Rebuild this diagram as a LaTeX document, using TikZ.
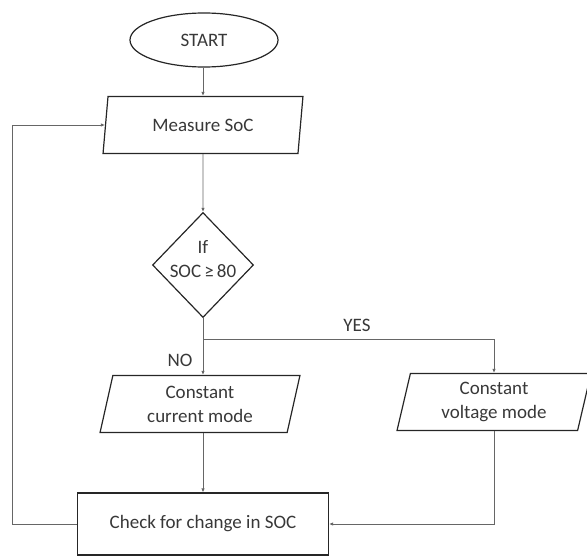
\documentclass[tikz,border=0pt]{standalone}
\usepackage{fontspec}
\setmainfont{Carlito}
\usetikzlibrary{shapes.geometric}
\usetikzlibrary{arrows.meta}

\begin{document}
\begin{tikzpicture}[>/.tip={Latex[length=4pt,width=3.5pt]},x=1pt,y=-1pt,
	every node/.style={text=black!78,font=\fontsize{19}{24}\selectfont},
	terminal/.style={draw=black!85,line width=1.2pt,shape=ellipse,minimum width=148pt,minimum height=54pt,inner sep=0pt},
	io/.style={draw=black!85,line width=1.2pt,shape=trapezium,trapezium left angle=78,trapezium right angle=102,trapezium stretches=true,minimum width=200pt,minimum height=57pt,inner sep=0pt,align=center},
	decision/.style={draw=black!85,line width=1.2pt,shape=diamond,minimum width=101pt,minimum height=105pt,inner sep=0pt},
	process/.style={draw=black!85,line width=1.2pt,shape=rectangle,minimum width=251pt,minimum height=62pt},
	flow/.style={draw=black!60,line width=0.8pt}]
	\useasboundingbox (0,0) rectangle (587,557);
	% boxes of the charging loop
	\draw (204,40) node(start) [terminal] {START};
	\draw (203,125) node(measure) [io] {Measure SoC};
	\draw (203,265) node(cond) [decision] {\smash{\makebox[0pt]{\begin{tabular}{@{}c@{}}If\\SOC\,≥\,80\end{tabular}}}};
	\draw (200,404) node(ccm) [io] {Constant\\current mode};
	\draw (494,402) node(cvm) [io,minimum width=194pt] {Constant\\voltage mode};
	\draw (203,524) node(check) [process] {Check for change in SOC};
	\coordinate (split) at (203,339);
	\node (no) [anchor=east] at (196,360) {NO};
	\node (yes) at (357,325) {YES};
	% connectors
	\draw[flow,->] (start.south -| measure.north) -- (measure.north);
	\draw[flow,->] (measure) -- (cond);
	\draw[flow,->] (cond.south) -- (cond.south |- ccm.north);
	\draw[flow,->] (split) -| (cvm.north);
	\draw[flow,->] (ccm.south -| check.north) -- (check.north);
	\draw[flow,->] (cvm.south) |- (check.east);
	\draw[flow,->] (check.west) -- ++(-65,0) |- (measure.west);
\end{tikzpicture}
\end{document}
